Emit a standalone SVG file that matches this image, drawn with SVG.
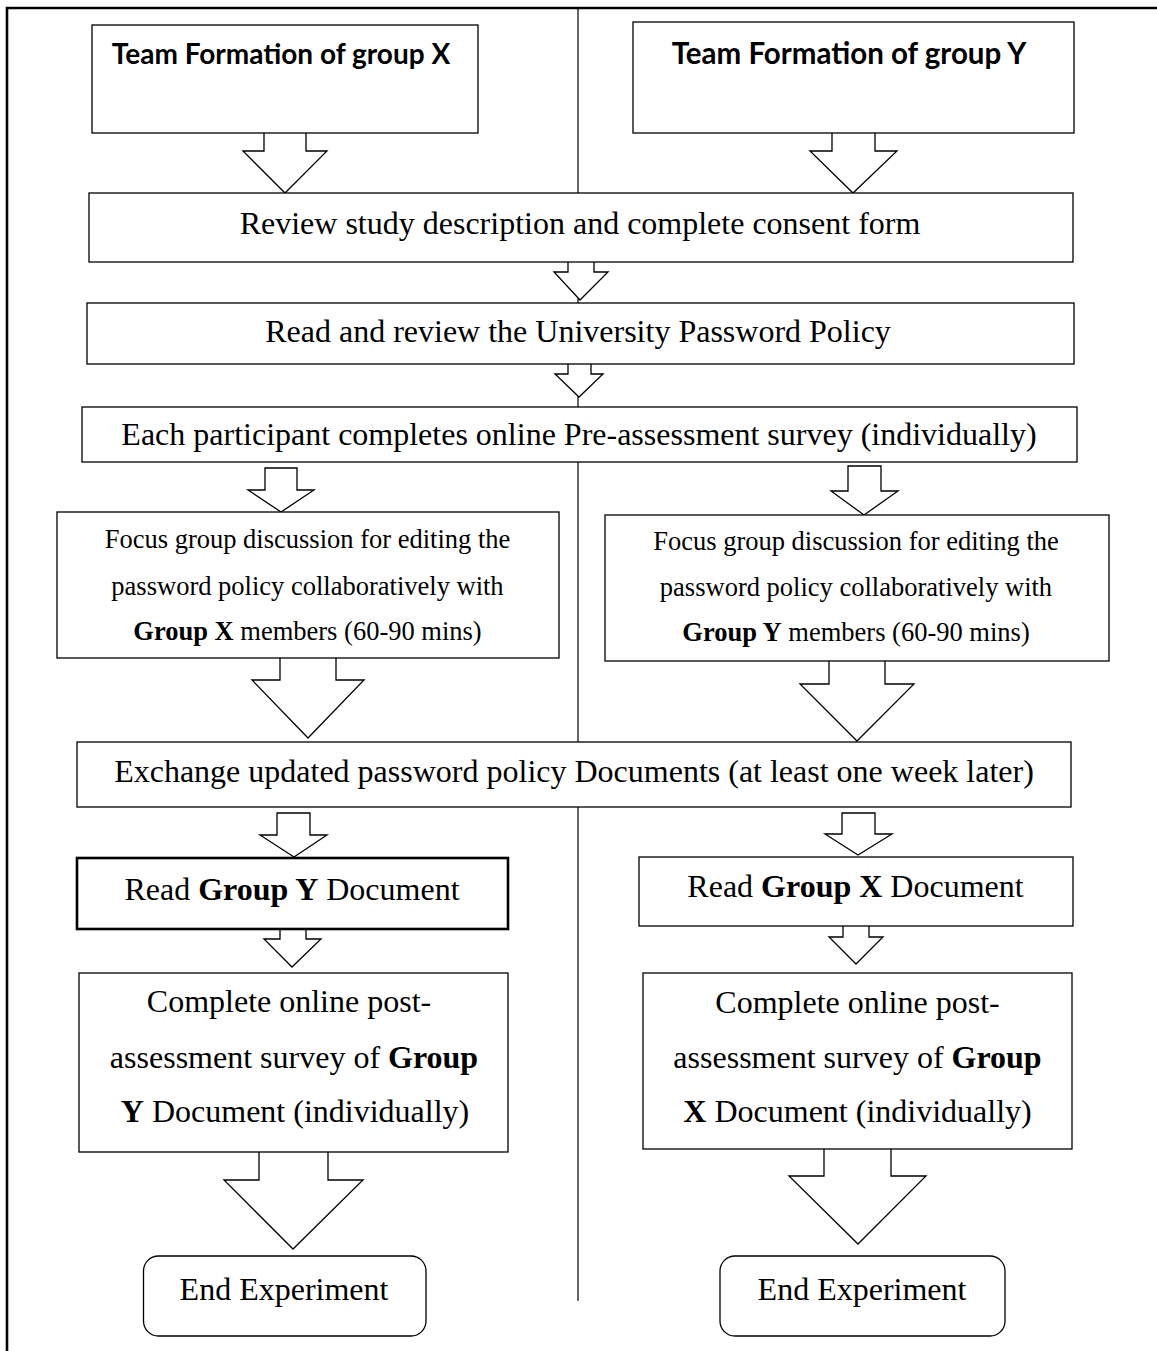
<svg xmlns="http://www.w3.org/2000/svg" width="1157" height="1351" viewBox="0 0 1157 1351">
  <style>
    .box { fill: #fff; stroke: #000; stroke-width: 1.3; }
    .thick { stroke-width: 2.6; }
    .arrow { fill: #fff; stroke: #000; stroke-width: 1.3; stroke-linejoin: miter; }
    .frame { fill: none; stroke: #000; stroke-width: 2.6; }
    .divider { fill: none; stroke: #000; stroke-width: 1.2; }
    .t { font-family: "Liberation Serif", "Times New Roman", serif; font-size: 32px; fill: #000; text-anchor: middle; }
    .s { font-size: 26.5px; }
    .b { font-weight: bold; }
    .head { font-family: Lato, "Liberation Sans", sans-serif; font-weight: bold; fill: #000; text-anchor: middle; }
  </style>

  <!-- page frame and column divider -->
  <g id="frame">
    <path class="frame" d="M7,1351 V8 H1157"/>
    <line class="divider" x1="578" y1="8" x2="578" y2="1301"/>
  </g>

  <!-- block arrows between steps -->
  <g id="connectors">
    <path class="arrow" d="M264,132 V151 H243 L285,193 L327,151 H306 V132"/>
    <path class="arrow" d="M832,132 V151 H810 L853,193 L897,151 H875 V132"/>
    <path class="arrow" d="M568,261 V272 H554 L580,300 L608,272 H594 V261"/>
    <path class="arrow" d="M568,363 V374 H555 L579,397 L603,374 H591 V363"/>
    <path class="arrow" d="M265,468 V490 H248 L281,512 L314,490 H297 V468 Z"/>
    <path class="arrow" d="M848,466 V491 H831 L864,515 L898,491 H881 V466 Z"/>
    <path class="arrow" d="M280,657 V680 H252 L308,738 L364,680 H336 V657"/>
    <path class="arrow" d="M829,660 V684 H800 L857,741 L914,684 H885 V660"/>
    <path class="arrow" d="M277,813 V835 H260 L294,857 L327,835 H310 V813 Z"/>
    <path class="arrow" d="M842,813 V834 H825 L858,855 L892,834 H875 V813 Z"/>
    <path class="arrow thick" d="M280,928 V939 H264 L292,967 L321,939 H306 V928"/>
    <path class="arrow" d="M843,925 V937 H829 L856,964 L883,937 H869 V925"/>
    <path class="arrow" d="M259,1151 V1180 H224 L293,1249 L363,1180 H328 V1151"/>
    <path class="arrow" d="M824,1148 V1176 H789 L858,1244 L926,1176 H891 V1148"/>
  </g>

  <g id="team-x">
    <rect class="box" x="92" y="25" width="386" height="108"/>
    <text class="head" x="281" y="64" font-size="28">Team Formation of group X</text>
  </g>
  <g id="team-y">
    <rect class="box" x="633" y="22" width="441" height="111"/>
    <text class="head" x="849" y="64" font-size="29.5">Team Formation of group Y</text>
  </g>

  <g id="review-study">
    <rect class="box" x="89" y="193" width="984" height="69"/>
    <text class="t" x="580" y="234">Review study description and complete consent form</text>
  </g>
  <g id="read-policy">
    <rect class="box" x="87" y="303" width="987" height="61"/>
    <text class="t" x="578" y="342">Read and review the University Password Policy</text>
  </g>
  <g id="pre-survey">
    <rect class="box" x="82" y="407" width="995" height="55"/>
    <text class="t" x="579" y="445">Each participant completes online Pre-assessment survey (individually)</text>
  </g>

  <g id="focus-x">
    <rect class="box" x="57" y="512" width="502" height="146"/>
    <text class="t s" x="307.5" y="548">Focus group discussion for editing the</text>
    <text class="t s" x="307.5" y="595">password policy collaboratively with</text>
    <text class="t s" x="307.5" y="640"><tspan class="b">Group X</tspan> members (60-90 mins)</text>
  </g>
  <g id="focus-y">
    <rect class="box" x="605" y="515" width="504" height="146"/>
    <text class="t s" x="856" y="550">Focus group discussion for editing the</text>
    <text class="t s" x="856" y="596">password policy collaboratively with</text>
    <text class="t s" x="856" y="641"><tspan class="b">Group Y</tspan> members (60-90 mins)</text>
  </g>

  <g id="exchange">
    <rect class="box" x="77" y="742" width="994" height="65"/>
    <text class="t" x="574" y="782">Exchange updated password policy Documents (at least one week later)</text>
  </g>

  <g id="read-y">
    <rect class="box thick" x="77" y="858" width="431" height="71"/>
    <text class="t" x="292" y="900">Read <tspan class="b">Group Y</tspan> Document</text>
  </g>
  <g id="read-x">
    <rect class="box" x="639" y="857" width="434" height="69"/>
    <text class="t" x="855.5" y="897">Read <tspan class="b">Group X</tspan> Document</text>
  </g>

  <g id="post-survey-y">
    <rect class="box" x="79" y="973" width="429" height="179"/>
    <text class="t" x="289" y="1012">Complete online post-</text>
    <text class="t" x="294" y="1068">assessment survey of <tspan class="b">Group</tspan></text>
    <text class="t" x="295" y="1122"><tspan class="b">Y</tspan> Document (individually)</text>
  </g>
  <g id="post-survey-x">
    <rect class="box" x="643" y="973" width="429" height="176"/>
    <text class="t" x="857.5" y="1013">Complete online post-</text>
    <text class="t" x="857.5" y="1068">assessment survey of <tspan class="b">Group</tspan></text>
    <text class="t" x="857.5" y="1122"><tspan class="b">X</tspan> Document (individually)</text>
  </g>

  <g id="end-y">
    <rect class="box" x="143.5" y="1256" width="282.5" height="80" rx="15"/>
    <text class="t" x="284" y="1300">End Experiment</text>
  </g>
  <g id="end-x">
    <rect class="box" x="720" y="1256" width="285" height="80" rx="15"/>
    <text class="t" x="862" y="1300">End Experiment</text>
  </g>
</svg>
